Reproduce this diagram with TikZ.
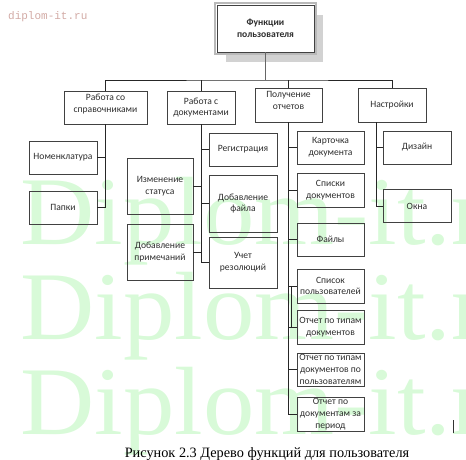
\documentclass[tikz,border=0pt]{standalone}
\usepackage{fontspec}
\setmainfont{Carlito}
\newfontfamily\capfont{Liberation Serif}
\newfontfamily\sitefont{Liberation Mono}
\usetikzlibrary{calc,shadows}
\definecolor{wmgreen}{RGB}{216,250,216}
\definecolor{wmred}{RGB}{210,170,165}
\definecolor{boxline}{RGB}{65,65,65}
\definecolor{boxtext}{RGB}{45,45,45}
\tikzset{
  func/.style={draw=boxline, line width=0.8pt, text=boxtext, align=center, inner sep=1pt,
    font=\fontsize{9.6}{11.7}\selectfont, minimum width=68pt, minimum height=33pt},
  rootbox/.style={func, fill=white, font=\bfseries\fontsize{9.6}{11.7}\selectfont,
    minimum width=97pt, minimum height=47pt,
    drop shadow={shadow xshift=9pt, shadow yshift=-10pt, fill=gray!35, opacity=1}},
  link/.style={draw=black!85, line width=0.8pt},
  wmark/.style={text=wmgreen, font=\capfont\fontsize{97}{97}\selectfont, anchor=base west, inner sep=0pt},
  caption/.style={font=\capfont\fontsize{14.3}{17}\selectfont, anchor=base, inner sep=0pt}
}

\begin{document}
\begin{tikzpicture}[x=1pt,y=-1pt]
  \useasboundingbox (0,0) rectangle (466,460);
  \begin{scope}
    \clip (0,0) rectangle (466,460);
    \foreach \y in {244,339,434}{\node[wmark, xscale=1.06] at (20,\y) {Diplom-it.ru};}
  \end{scope}
  \node[text=wmred, font=\sitefont\fontsize{11}{13}\selectfont, anchor=base west, inner sep=0pt] (site) at (8,20) {diplom-it.ru};

  % root
  \node[rootbox] (root) at (265.5,28.5) {Функции\\пользователя};
  \draw[gray!55, line width=1.6pt] ($(root.north west)+(-1.6,-1.6)$) rectangle ($(root.south east)+(1.6,1.6)$);
  \coordinate (bus) at (root.south |- 0,80);

  % first level
  \node[func, minimum width=83pt, text depth=9pt] (dir) at (105.5,107.5) {Работа со\\справочниками};
  \node[func] (docs) at (201,107.5) {Работа с\\документами};
  \node[func, minimum width=67pt, minimum height=34pt, text depth=9pt] (reports) at (288.5,105) {Получение\\отчетов};
  \node[func, minimum height=34pt] (settings) at (392,105) {Настройки};

  \draw[gray!80!black, line width=0.8pt] (root.south) -- (bus);
  \draw[link] (dir.north) |- (bus) -| (settings.north);
  \draw[link] (docs.north) -- (docs.north |- bus);
  \draw[link] (reports.north) -- (reports.north |- bus);

  % reference books
  \node[func] (nomencl) at (63,157.5) {Номенклатура};
  \node[func] (folders) at (63,207.5) {Папки};
  \foreach \n in {nomencl,folders}{\draw[link] (dir.south) |- (\n.east);}

  % documents
  \node[func] (reg) at (243,149.5) {Регистрация};
  \node[func, minimum height=57pt] (addfile) at (243,203.5) {Добавление\\файла};
  \node[func, minimum height=51pt] (resol) at (243,262.5) {Учет\\резолюций};
  \node[func, minimum width=66pt, minimum height=56pt] (status) at (160,186) {Изменение\\статуса};
  \node[func, minimum width=66pt, minimum height=56pt] (notes) at (160,252) {Добавление\\примечаний};
  \foreach \n in {reg,addfile,resol}{\draw[link] (docs.south) |- (\n.west);}
  \foreach \n in {status,notes}{\draw[link] (docs.south) |- (\n.east);}

  % reports
  \node[func, minimum width=67pt] (card) at (330.5,147.5) {Карточка\\документа};
  \node[func, minimum width=67pt, minimum height=34pt] (lists) at (330.5,190) {Списки\\документов};
  \node[func, minimum width=67pt] (files) at (330.5,239.5) {Файлы};
  \node[func, minimum width=67pt, minimum height=34pt] (users) at (330.5,286) {Список\\пользователей};
  \node[func, minimum width=67pt, minimum height=34pt] (bytype) at (330.5,327) {Отчет по типам\\документов};
  \node[func, minimum width=67pt] (byuser) at (330.5,369.5) {Отчет по типам\\документов по\\пользователям};
  \node[func, minimum width=67pt, minimum height=34pt] (period) at (330.5,414) {Отчет по\\документам за\\период};
  \foreach \n in {card,lists,files,users,bytype,byuser,period}{\draw[link] (reports.south) |- (\n.west);}
  \draw[link] ($(users.west -| reports.south)+(3,0)$) -- ($(bytype.west -| reports.south)+(3,0)$);

  % settings
  \node[func] (design) at (417,147.5) {Дизайн};
  \node[func] (windows) at (417,206) {Окна};
  \foreach \n in {design,windows}{\draw[link] ([xshift=-16pt]settings.south) |- (\n.west);}

  \node[caption] (cap) at (267,457) {Рисунок 2.3 Дерево функций для пользователя};
  \draw[black!80, line width=0.8pt] (453,420) -- (453,433);
\end{tikzpicture}
\end{document}
